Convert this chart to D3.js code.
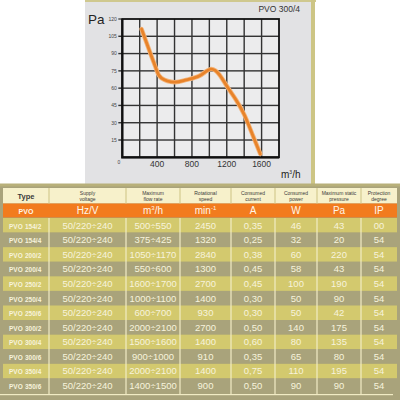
<!DOCTYPE html>
<html>
<head>
<meta charset="utf-8">
<script src="https://cdn.jsdelivr.net/npm/d3@7/dist/d3.min.js"></script>
<style>
body { margin: 0; background: #fff; }
svg { display: block; font-family: "Liberation Sans", Arial, sans-serif; }
</style>
</head>
<body>
<script>
// Curve PVO 300/4 : flow (m3/h) vs pressure (Pa)
var flow = [221, 336, 393, 450, 602, 736, 888, 1014, 1117, 1204, 1307, 1402, 1497, 1585];
var pressure = [111.3, 87.5, 75.9, 68.7, 65.2, 67.2, 70.7, 76.5, 71.6, 61.4, 49.8, 36.8, 19.4, 2.9];
var yTicks = [15, 30, 45, 60, 75, 90, 105, 120];
var xTicks = [400, 800, 1200, 1600];
var xGrid = [200, 400, 600, 800, 1000, 1200, 1400, 1600];

// Table
var headers = [["Type"], ["Supply", "voltage"], ["Maximum", "flow rate"], ["Rotational", "speed"],
  ["Consumed", "current"], ["Consumed", "power"], ["Maximum static", "pressure"], ["Protection", "degree"]];
var units = ["PVO", "Hz/V", "m³/h", "min⁻¹", "A", "W", "Pa", "IP"];
var types = ["154/2", "154/4", "200/2", "200/4", "250/2", "250/4", "250/6", "300/2", "300/4", "300/6", "350/4", "350/6"];
var voltage = ["50/220÷240", "50/220÷240", "50/220÷240", "50/220÷240", "50/220÷240", "50/220÷240",
  "50/220÷240", "50/220÷240", "50/220÷240", "50/220÷240", "50/220÷240", "50/220÷240"];
var flowRate = ["500÷550", "375÷425", "1050÷1170", "550÷600", "1600÷1700", "1000÷1100",
  "600÷700", "2000÷2100", "1500÷1600", "900÷1000", "2000÷2100", "1400÷1500"];
var speed = ["2450", "1320", "2840", "1300", "2700", "1400", "930", "2700", "1400", "910", "1400", "900"];
var current = ["0,35", "0,25", "0,38", "0,45", "0,45", "0,30", "0,30", "0,50", "0,60", "0,35", "0,75", "0,50"];
var power = ["46", "32", "60", "58", "100", "50", "50", "140", "80", "65", "110", "90"];
var staticPressure = ["43", "20", "220", "43", "190", "90", "42", "175", "135", "80", "195", "90"];
var protection = ["00", "54", "54", "54", "54", "54", "54", "54", "54", "54", "54", "54"];

var svg = d3.select("body").append("svg")
  .attr("width", 400)
  .attr("height", 400);

//Chart panel
svg.append("rect").attr("x", 85).attr("y", 0).attr("width", 226).attr("height", 184).attr("fill", "#e2e2e4");
svg.append("rect").attr("x", 85).attr("y", 0).attr("width", 231).attr("height", 2).attr("fill", "#cfc88e");
svg.append("rect").attr("x", 311).attr("y", 0).attr("width", 4).attr("height", 184).attr("fill", "#cdc585");

var x = d3.scaleLinear().domain([0, 1800]).range([122.3, 279]);
var y = d3.scaleLinear().domain([0, 120]).range([157.3, 19]);

//Plot background
svg.append("rect")
  .attr("x", x(0)).attr("y", y(120))
  .attr("width", x(1800) - x(0)).attr("height", y(0) - y(120))
  .attr("fill", "#ececed");

//Grid as thin filled rects
svg.selectAll("rect.vgrid")
  .data(xGrid)
  .enter()
  .append("rect")
  .attr("class", "vgrid")
  .attr("x", function(d) { return x(d) - 0.7; })
  .attr("y", y(120))
  .attr("width", 1.4)
  .attr("height", y(0) - y(120))
  .attr("fill", "#333");
svg.selectAll("rect.hgrid")
  .data(yTicks.slice(0, -1))
  .enter()
  .append("rect")
  .attr("class", "hgrid")
  .attr("x", x(0) - 4)
  .attr("y", function(d) { return y(d) - 0.7; })
  .attr("width", x(1800) - x(0) + 4)
  .attr("height", 1.4)
  .attr("fill", "#333");
svg.append("rect")
  .attr("x", x(0) - 4).attr("y", y(120) - 0.6).attr("width", 4).attr("height", 1.2)
  .attr("fill", "#333");

//Y labels
svg.selectAll("text.ylab")
  .data(yTicks)
  .enter()
  .append("text")
  .attr("class", "ylab")
  .attr("x", x(0) - 5.5)
  .attr("y", function(d) { return y(d) + 1.8; })
  .attr("text-anchor", "end")
  .attr("font-size", 5)
  .attr("fill", "#444")
  .text(function(d) { return d; });
svg.append("text").attr("x", 119).attr("y", 164).attr("font-size", 5).attr("fill", "#444")
  .attr("text-anchor", "middle").text("0");

//X labels
svg.selectAll("text.xlab")
  .data(xTicks)
  .enter()
  .append("text")
  .attr("class", "xlab")
  .attr("x", function(d) { return x(d); })
  .attr("y", y(0) + 10)
  .attr("text-anchor", "middle")
  .attr("font-size", 8.5)
  .attr("fill", "#333")
  .text(function(d) { return d; });

//Frame
svg.append("rect")
  .attr("x", x(0)).attr("y", y(120))
  .attr("width", x(1800) - x(0)).attr("height", y(0) - y(120))
  .attr("fill", "none").attr("stroke", "#111").attr("stroke-width", 1.8);
svg.append("path")
  .attr("d", "M" + x(0) + "," + y(120) + "V" + y(0) + "H" + x(1800))
  .attr("fill", "none").attr("stroke", "#111").attr("stroke-width", 2.2);

//Curve
var line = d3.line()
  .x(function(d, i) { return x(flow[i]); })
  .y(function(d) { return y(d); })
  .curve(d3.curveNatural);
svg.append("path").datum(pressure)
  .attr("d", line)
  .attr("fill", "none").attr("stroke", "#f3b47a").attr("stroke-width", 4.5).attr("stroke-linecap", "round");
svg.append("path").datum(pressure)
  .attr("d", line)
  .attr("fill", "none").attr("stroke", "#e8832a").attr("stroke-width", 2.8).attr("stroke-linecap", "round");

//Labels
svg.append("text").attr("x", 88).attr("y", 24).attr("font-size", 13.5).attr("fill", "#222").text("Pa");
svg.append("text").attr("x", 300).attr("y", 11.5).attr("font-size", 8.5).attr("fill", "#333")
  .attr("text-anchor", "end").text("PVO 300/4");
var mh = svg.append("text").attr("x", 281).attr("y", 178).attr("font-size", 10).attr("fill", "#222");
mh.append("tspan").text("m");
mh.append("tspan").attr("font-size", 5).attr("dy", -4).text("3");
mh.append("tspan").attr("dy", 4).text("/h");

//Table background
svg.append("rect").attr("x", 0).attr("y", 184).attr("width", 400).attr("height", 216).attr("fill", "#a9a37b");
svg.append("rect").attr("x", 0).attr("y", 183.5).attr("width", 400).attr("height", 3).attr("fill", "#b8b07a");

var colEdges = [3, 49, 126, 180, 231, 275, 317, 361, 397];
var columns = [types, voltage, flowRate, speed, current, power, staticPressure, protection];
var colX = function(i) { return (colEdges[i] + colEdges[i + 1]) / 2; };

//Header row
svg.append("rect").attr("x", 3).attr("y", 188).attr("width", 394).attr("height", 15.5).attr("fill", "#f7f1cb");
svg.append("rect").attr("x", 3).attr("y", 203.5).attr("width", 394).attr("height", 14).attr("fill", "#f27b1e");

var rowY = d3.scaleBand().domain(d3.range(types.length)).range([218, 393]);

svg.selectAll("rect.row")
  .data(types)
  .enter()
  .append("rect")
  .attr("class", "row")
  .attr("x", 3)
  .attr("y", function(d, i) { return rowY(i); })
  .attr("width", 394)
  .attr("height", rowY.bandwidth())
  .attr("fill", function(d, i) { return i % 2 == 0 ? "#d3c96e" : "#a9a37b"; });

//Column separators
svg.selectAll("rect.hsep")
  .data(colEdges.slice(1, -1))
  .enter()
  .append("rect")
  .attr("class", "hsep")
  .attr("x", function(d) { return d - 0.6; })
  .attr("y", 188).attr("width", 1.2).attr("height", 15.5)
  .attr("fill", "#d4ca90");
svg.selectAll("rect.dsep")
  .data(colEdges.slice(1, -1))
  .enter()
  .append("rect")
  .attr("class", "dsep")
  .attr("x", function(d) { return d - 0.6; })
  .attr("y", 218).attr("width", 1.2).attr("height", 176)
  .attr("fill", "#f1ebc4");
svg.append("rect").attr("x", 0).attr("y", 394).attr("width", 393).attr("height", 1.2)
  .attr("fill", "#f1ebc4");

//Header text
headers.forEach(function(h, i) {
  var t = svg.append("text")
    .attr("x", colX(i))
    .attr("text-anchor", "middle")
    .attr("fill", "#3a3a3a");
  if (h.length == 1) {
    t.attr("y", 198.5).attr("font-size", 7.5).attr("font-weight", "bold").text(h[0]);
  } else {
    t.attr("font-size", 5);
    t.append("tspan").attr("x", colX(i)).attr("y", 194.5).text(h[0]);
    t.append("tspan").attr("x", colX(i)).attr("y", 200.5).text(h[1]);
  }
});

//Units row
units.forEach(function(u, i) {
  var t = svg.append("text")
    .attr("x", colX(i))
    .attr("y", 214)
    .attr("text-anchor", "middle")
    .attr("fill", "#fff5e8");
  if (i == 0) {
    t.attr("font-size", 7).attr("font-weight", "bold").text(u);
  } else if (u == "m³/h") {
    t.attr("font-size", 10);
    t.append("tspan").text("m");
    t.append("tspan").attr("font-size", 6).attr("dy", -4).text("3");
    t.append("tspan").attr("dy", 4).text("/h");
  } else if (u == "min⁻¹") {
    t.attr("font-size", 10);
    t.append("tspan").text("min");
    t.append("tspan").attr("font-size", 6).attr("dy", -4).text("-1");
  } else {
    t.attr("font-size", 10).text(u);
  }
});

//Data cells
columns.forEach(function(col, c) {
  svg.selectAll("text.c" + c)
    .data(col)
    .enter()
    .append("text")
    .attr("class", "c" + c)
    .attr("y", function(d, i) { return rowY(i) + rowY.bandwidth() / 2 + 3.3; })
    .attr("fill", "#f7f3dc")
    .each(function(d) {
      var t = d3.select(this);
      if (c == 0) {
        t.attr("x", 9).attr("font-size", 6.5).attr("font-weight", "bold");
        t.append("tspan").text("PVO");
        t.append("tspan").attr("x", 25).text(d);
      } else {
        t.attr("x", colX(c)).attr("text-anchor", "middle").attr("font-size", 9.5).text(d);
      }
    });
});
</script>
</body>
</html>
